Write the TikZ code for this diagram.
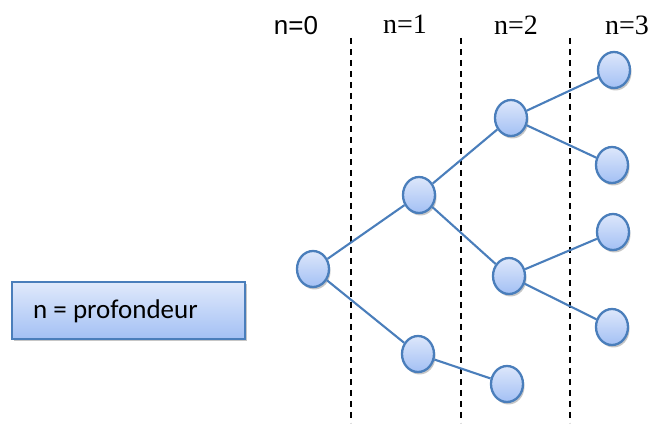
\documentclass[tikz,border=0pt]{standalone}
\usepackage{fontspec}
\setmainfont{Liberation Serif}
\newfontfamily\arialf{Liberation Sans}
\newfontfamily\calf{Carlito}
\usetikzlibrary{shapes.geometric,shadows}
\definecolor{edgeblue}{HTML}{4A7EBB}
\definecolor{topblue}{HTML}{DDE7FB}
\definecolor{botblue}{HTML}{A3C0F4}
\tikzset{
  treenode/.style={ellipse, draw=edgeblue, line width=2.3pt, minimum width=32pt, minimum height=36pt, inner sep=0pt,
    top color=topblue, bottom color=botblue, drop shadow={shadow xshift=1.5pt, shadow yshift=-2.5pt, fill=black!50, opacity=0.45}},
  treeedge/.style={draw=edgeblue, line width=2.1pt},
  sepline/.style={draw=black, line width=2pt, dash pattern=on 6pt off 5pt},
  levellabel/.style={font=\fontsize{28}{30}\selectfont, inner sep=0pt},
  legendbox/.style={draw=edgeblue, line width=1.8pt, top color=topblue!90!white, bottom color=botblue, minimum width=233pt, minimum height=57pt,
    drop shadow={shadow xshift=1.5pt, shadow yshift=-2.5pt, fill=black!50, opacity=0.45}, inner sep=0pt}
}
\begin{document}
\begin{tikzpicture}[x=1pt,y=-1pt]
\useasboundingbox (0,0) rectangle (651,430);
% separators
\coordinate (s1t) at (351,38); \coordinate (s1b) at (351,423);
\coordinate (s2t) at (461,38); \coordinate (s2b) at (461,423);
\coordinate (s3t) at (570,38); \coordinate (s3b) at (570,423);
\draw[sepline] (s1t) -- (s1b);
\draw[sepline] (s2t) -- (s2b);
\draw[sepline] (s3t) -- (s3b);
% labels
\node[levellabel, font=\arialf\fontsize{26}{28}\selectfont] (l0) at (296,26) {n=0};
\node[levellabel] (l1) at (405,24) {n=1};
\node[levellabel] (l2) at (516,25) {n=2};
\node[levellabel] (l3) at (627,25) {n=3};
% legend
\node[legendbox] (legend) at (128.5,310.5) {};
\node[anchor=west, font=\calf\fontsize{27}{29}\selectfont, inner sep=0pt] (legtext) at (33,311) {n = profondeur};
% tree nodes
\node[treenode] (r) at (313,269) {};
\node[treenode] (a) at (419,195) {};
\node[treenode] (b) at (418,354) {};
\node[treenode] (aa) at (511,118) {};
\node[treenode] (ab) at (509,276) {};
\node[treenode] (ba) at (507,384) {};
\node[treenode] (aaa) at (614,70) {};
\node[treenode] (aab) at (612,165) {};
\node[treenode] (aba) at (613,232) {};
\node[treenode] (abb) at (612,327) {};
% edges
\draw[treeedge] (r) -- (a);
\draw[treeedge] (r) -- (b);
\draw[treeedge] (a) -- (aa);
\draw[treeedge] (a) -- (ab);
\draw[treeedge] (b) -- (ba);
\draw[treeedge] (aa) -- (aaa);
\draw[treeedge] (aa) -- (aab);
\draw[treeedge] (ab) -- (aba);
\draw[treeedge] (ab) -- (abb);
\end{tikzpicture}
\end{document}
